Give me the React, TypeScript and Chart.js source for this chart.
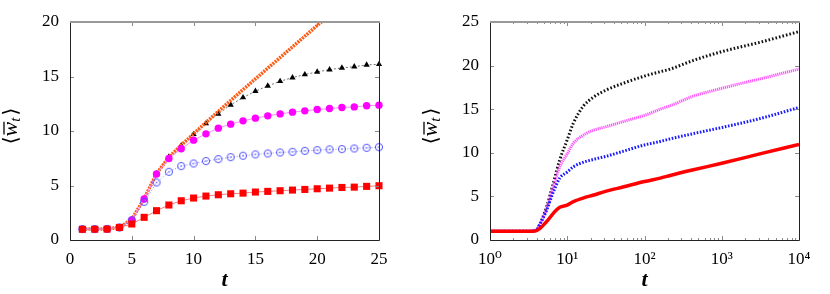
import React, { useEffect, useRef } from "react";
import { Chart, registerables } from "chart.js";

Chart.register(...registerables);

// ---------- Left panel data ----------
const leftT = [1, 2, 3, 4, 5, 6, 7, 8, 9, 10, 11, 12, 13, 14, 15, 16, 17, 18, 19, 20, 21, 22, 23, 24, 25];
const leftRed = [0.98, 0.99, 1.0, 1.15, 1.47, 2.08, 2.69, 3.21, 3.6, 3.85, 4.03, 4.15, 4.24, 4.3, 4.4, 4.46, 4.52, 4.58, 4.64, 4.7, 4.76, 4.82, 4.85, 4.92, 4.98];
const leftBlue = [1.0, 1.0, 1.02, 1.15, 1.8, 3.5, 5.28, 6.26, 6.78, 7.02, 7.24, 7.42, 7.6, 7.73, 7.85, 7.94, 8.03, 8.09, 8.18, 8.24, 8.31, 8.34, 8.4, 8.46, 8.52];
const leftMagenta = [1.0, 1.0, 1.02, 1.15, 1.85, 3.76, 6.05, 7.48, 8.37, 9.16, 9.74, 10.26, 10.63, 10.93, 11.18, 11.39, 11.57, 11.73, 11.85, 11.97, 12.06, 12.15, 12.21, 12.31, 12.37];
const leftBlack = [1.0, 1.0, 1.02, 1.15, 1.85, 3.76, 6.1, 7.63, 8.67, 9.7, 10.69, 11.57, 12.4, 13.07, 13.65, 14.14, 14.56, 14.9, 15.18, 15.42, 15.63, 15.79, 15.9, 16.06, 16.12];
const orangeT = [1, 2, 3, 4, 5, 6, 7, 8, 9, 10, 11, 12, 13, 14, 15, 16, 17, 18, 19, 20, 21];
const orangeVals = [1.0, 1.0, 1.02, 1.15, 1.9, 3.8, 6.1, 7.6, 8.7, 9.75, 10.78, 11.8, 12.8, 13.8, 14.78, 15.76, 16.74, 17.72, 18.7, 19.68, 20.66];
const leftXTicks = [0, 5, 10, 15, 20, 25];
const leftYTicks = [0, 5, 10, 15, 20];

// ---------- Right panel data ----------
const rightT = [1, 2, 3, 3.5, 4, 4.4, 5.4, 6.6, 8, 10, 12, 16, 22, 32, 54, 100, 160, 215, 430, 1000, 3200, 10000];
const rightBlack = [1, 1, 1, 1.02, 1.15, 1.8, 3.8, 6.5, 9.2, 11.5, 13.4, 15.3, 16.4, 17.2, 18.0, 18.8, 19.3, 19.6, 20.6, 21.6, 22.7, 23.9];
const rightMagenta = [1, 1, 1, 1.02, 1.15, 1.75, 3.6, 6.1, 8.4, 9.9, 11.1, 12.0, 12.6, 13.0, 13.6, 14.3, 15.0, 15.4, 16.5, 17.4, 18.5, 19.6];
const rightBlue = [1, 1, 1, 1.02, 1.15, 1.75, 3.4, 5.5, 7.1, 7.8, 8.4, 8.9, 9.25, 9.6, 10.2, 10.9, 11.3, 11.6, 12.2, 12.9, 13.95, 15.2];
const rightRed = [1, 1, 1, 1.0, 1.08, 1.3, 2.1, 3.06, 3.75, 4.0, 4.4, 4.8, 5.16, 5.6, 6.1, 6.7, 7.1, 7.4, 8.05, 8.8, 9.9, 10.95];
const rightXTicks = [1, 10, 100, 1000, 10000];
const rightXLabels = ["10⁰", "10¹", "10²", "10³", "10⁴"];
const rightYTicks = [0, 5, 10, 15, 20, 25];

const SERIF = "'Liberation Serif', 'DejaVu Serif', serif";
Chart.defaults.font.family = SERIF;
Chart.defaults.color = "#000";

const pts = (xs: number[], ys: number[]) => ys.map((y, i) => ({ x: xs[i], y }));

// Frame + inward ticks (gnuplot style)
const framePlugin = {
  id: "gnuFrame",
  afterDatasetsDraw(chart: any) {
    const { ctx, chartArea: a, scales } = chart;
    const xs = scales.x;
    const ys = scales.y;
    ctx.save();
    ctx.lineWidth = 1;
    ctx.strokeStyle = "#8a8a8a";
    const major = 4;
    const minor = 2;
    const isLog = xs.type === "logarithmic";
    const xMajor = isLog ? rightXTicks : leftXTicks;
    const yMajor = isLog ? rightYTicks : leftYTicks;
    ctx.beginPath();
    xMajor.forEach((v) => {
      const p = Math.round(xs.getPixelForValue(v)) + 0.5;
      ctx.moveTo(p, a.bottom);
      ctx.lineTo(p, a.bottom - major);
      ctx.moveTo(p, a.top);
      ctx.lineTo(p, a.top + major);
    });
    if (isLog) {
      for (let d = 1; d < 10000; d *= 10) {
        for (let m = 2; m <= 9; m++) {
          const p = Math.round(xs.getPixelForValue(d * m)) + 0.5;
          ctx.moveTo(p, a.bottom);
          ctx.lineTo(p, a.bottom - minor);
          ctx.moveTo(p, a.top);
          ctx.lineTo(p, a.top + minor);
        }
      }
    }
    yMajor.forEach((v) => {
      const p = Math.round(ys.getPixelForValue(v)) + 0.5;
      ctx.moveTo(a.left, p);
      ctx.lineTo(a.left + major, p);
      ctx.moveTo(a.right, p);
      ctx.lineTo(a.right - major, p);
    });
    ctx.stroke();
    // border
    ctx.strokeStyle = "#222";
    ctx.beginPath();
    ctx.moveTo(a.left + 0.5, a.top);
    ctx.lineTo(a.left + 0.5, a.bottom + 0.5);
    ctx.lineTo(a.right + 0.5, a.bottom + 0.5);
    ctx.lineTo(a.right + 0.5, a.top);
    ctx.stroke();
    ctx.strokeStyle = "#999";
    ctx.lineWidth = 2;
    ctx.beginPath();
    ctx.moveTo(a.left, a.top);
    ctx.lineTo(a.right + 1, a.top);
    ctx.stroke();
    ctx.restore();
  },
};

// Y axis title <w̄_t> with subscript
const yTitlePlugin = {
  id: "yTitle",
  afterDraw(chart: any, _args: any, opts: any) {
    const { ctx, chartArea: a } = chart;
    const cx = opts.x;
    const cy = (a.top + a.bottom) / 2 - 5;
    ctx.save();
    ctx.translate(cx, cy);
    ctx.rotate(-Math.PI / 2);
    ctx.fillStyle = "#000";
    ctx.textBaseline = "alphabetic";
    const brFont = "20px 'DejaVu Serif', serif";
    const wFont = "italic 22px 'Liberation Serif', serif";
    const tFont = "italic 15px 'Liberation Serif', serif";
    ctx.font = brFont;
    const wl = ctx.measureText("⟨").width;
    const wr = ctx.measureText("⟩").width;
    ctx.font = wFont;
    const ww = ctx.measureText("w").width;
    ctx.font = tFont;
    const wt = ctx.measureText("t").width;
    const total = wl + ww + wt + wr + 2;
    let x = -total / 2;
    const base = 6;
    ctx.font = brFont;
    ctx.fillText("⟨", x, base);
    x += wl;
    ctx.font = wFont;
    ctx.fillText("w", x, base);
    ctx.lineWidth = 1.3;
    ctx.strokeStyle = "#000";
    ctx.beginPath();
    ctx.moveTo(x + 2, base - 13);
    ctx.lineTo(x + ww, base - 13);
    ctx.stroke();
    x += ww;
    ctx.font = tFont;
    ctx.fillText("t", x, base + 3);
    x += wt + 2;
    ctx.font = brFont;
    ctx.fillText("⟩", x, base);
    ctx.restore();
  },
};

function makeOpenCircle(color: string) {
  const c = document.createElement("canvas");
  c.width = 10;
  c.height = 10;
  const g = c.getContext("2d")!;
  g.strokeStyle = color;
  g.lineWidth = 1;
  g.beginPath();
  g.arc(5, 5, 3.6, 0, Math.PI * 2);
  g.stroke();
  g.fillStyle = color;
  g.beginPath();
  g.arc(5, 5, 0.8, 0, Math.PI * 2);
  g.fill();
  return c;
}

const tickFont = { family: SERIF, size: 17 };
const titleFont = { family: SERIF, size: 22, style: "italic" as const, weight: "bold" as const };

function LeftChart() {
  const ref = useRef<HTMLCanvasElement>(null);
  useEffect(() => {
    const openCircle = makeOpenCircle("#5050ff");
    const chart = new Chart(ref.current!, {
      type: "line",
      data: {
        datasets: [
          {
            data: pts(leftT, leftRed),
            borderColor: "#ff7a7a",
            borderWidth: 1,
            pointStyle: "rect",
            pointRadius: 5,
            pointBackgroundColor: "#ff0000",
            pointBorderColor: "#ff0000",
            pointBorderWidth: 0,
            clip: false,
          },
          {
            data: pts(leftT, leftBlue),
            borderColor: "#8a8aff",
            borderWidth: 1,
            borderDash: [1, 2],
            pointStyle: openCircle,
            pointRadius: 4,
            clip: false,
          },
          {
            data: pts(leftT, leftMagenta),
            borderColor: "#ff8cff",
            borderWidth: 1,
            pointStyle: "circle",
            pointRadius: 3.7,
            pointBackgroundColor: "#ff00ff",
            pointBorderColor: "#ff00ff",
            pointBorderWidth: 0,
            clip: false,
          },
          {
            data: pts(orangeT, orangeVals),
            borderColor: "#ff5a14",
            borderWidth: 3.5,
            borderDash: [2, 1],
            pointRadius: 0,
            clip: 0,
          },
          {
            data: pts(leftT, leftBlack),
            borderColor: "#707070",
            borderWidth: 1,
            borderDash: [2, 2],
            pointStyle: "triangle",
            pointRadius: 3.6,
            pointBackgroundColor: "#000",
            pointBorderColor: "#000",
            pointBorderWidth: 0,
            clip: false,
          },
        ],
      },
      options: {
        responsive: false,
        animation: false,
        devicePixelRatio: 1,
        font: tickFont,
        layout: { padding: { left: 0, right: 36, top: 22, bottom: 0 } },
        plugins: {
          legend: { display: false },
          tooltip: { enabled: false },
          yTitle: { x: 11 },
        } as any,
        scales: {
          x: {
            type: "linear",
            min: 0,
            max: 25,
            grid: { display: false, drawTicks: false },
            border: { display: false },
            ticks: { stepSize: 5, font: tickFont, color: "#000", padding: 9, maxRotation: 0 },
            afterBuildTicks: (s: any) => {
              s.ticks = leftXTicks.map((v) => ({ value: v }));
            },
            title: { display: true, text: "t", font: titleFont, color: "#000", padding: { top: 0, bottom: 0 } },
            afterFit: (s: any) => {
              s.height = 54;
            },
          },
          y: {
            type: "linear",
            min: 0,
            max: 20,
            grid: { display: false, drawTicks: false },
            border: { display: false },
            ticks: { stepSize: 5, font: tickFont, color: "#000", padding: 11 },
            afterBuildTicks: (s: any) => {
              s.ticks = leftYTicks.map((v) => ({ value: v }));
            },
            afterFit: (s: any) => {
              s.width = 70;
            },
          },
        },
      } as any,
      plugins: [framePlugin, yTitlePlugin],
    });
    return () => chart.destroy();
  }, []);
  return <canvas ref={ref} width={415} height={294} style={{ position: "absolute", left: 0, top: 0, width: 415, height: 294 }} />;
}

function RightChart() {
  const ref = useRef<HTMLCanvasElement>(null);
  useEffect(() => {
    const chart = new Chart(ref.current!, {
      type: "line",
      data: {
        datasets: [
          {
            data: pts(rightT, rightRed),
            borderColor: "#ff0000",
            borderWidth: 3.5,
            pointRadius: 0,
            cubicInterpolationMode: "monotone",
          },
          {
            data: pts(rightT, rightBlue),
            borderColor: "#1a1aff",
            borderWidth: 3,
            borderDash: [1.6, 1.6],
            pointRadius: 0,
            cubicInterpolationMode: "monotone",
          },
          {
            data: pts(rightT, rightMagenta),
            borderColor: "#ff55ff",
            borderWidth: 3,
            borderDash: [1.2, 0.8],
            pointRadius: 0,
            cubicInterpolationMode: "monotone",
          },
          {
            data: pts(rightT, rightBlack),
            borderColor: "#111",
            borderWidth: 3,
            borderDash: [1.6, 2],
            pointRadius: 0,
            cubicInterpolationMode: "monotone",
          },
        ],
      },
      options: {
        responsive: false,
        animation: false,
        devicePixelRatio: 1,
        font: tickFont,
        layout: { padding: { left: 0, right: 31, top: 22, bottom: 0 } },
        plugins: {
          legend: { display: false },
          tooltip: { enabled: false },
          yTitle: { x: 16 },
        } as any,
        scales: {
          x: {
            type: "logarithmic",
            min: 1,
            max: 10000,
            grid: { display: false, drawTicks: false },
            border: { display: false },
            ticks: {
              font: tickFont,
              color: "#000",
              padding: 9,
              maxRotation: 0,
              autoSkip: false,
              callback: (v: any) => {
                const i = rightXTicks.indexOf(Number(v));
                return i >= 0 ? rightXLabels[i] : "";
              },
            },
            afterBuildTicks: (s: any) => {
              s.ticks = rightXTicks.map((v) => ({ value: v }));
            },
            title: { display: true, text: "t", font: titleFont, color: "#000", padding: { top: 0, bottom: 0 } },
            afterFit: (s: any) => {
              s.height = 54;
            },
          },
          y: {
            type: "linear",
            min: 0,
            max: 25,
            grid: { display: false, drawTicks: false },
            border: { display: false },
            ticks: { stepSize: 5, font: tickFont, color: "#000", padding: 11 },
            afterBuildTicks: (s: any) => {
              s.ticks = rightYTicks.map((v) => ({ value: v }));
            },
            afterFit: (s: any) => {
              s.width = 75;
            },
          },
        },
      } as any,
      plugins: [framePlugin, yTitlePlugin],
    });
    return () => chart.destroy();
  }, []);
  return <canvas ref={ref} width={415} height={294} style={{ position: "absolute", left: 415, top: 0, width: 415, height: 294 }} />;
}

export default function App() {
  return (
    <div style={{ position: "absolute", left: 0, top: 0, width: 830, height: 294, background: "#fff" }}>
      <LeftChart />
      <RightChart />
    </div>
  );
}
